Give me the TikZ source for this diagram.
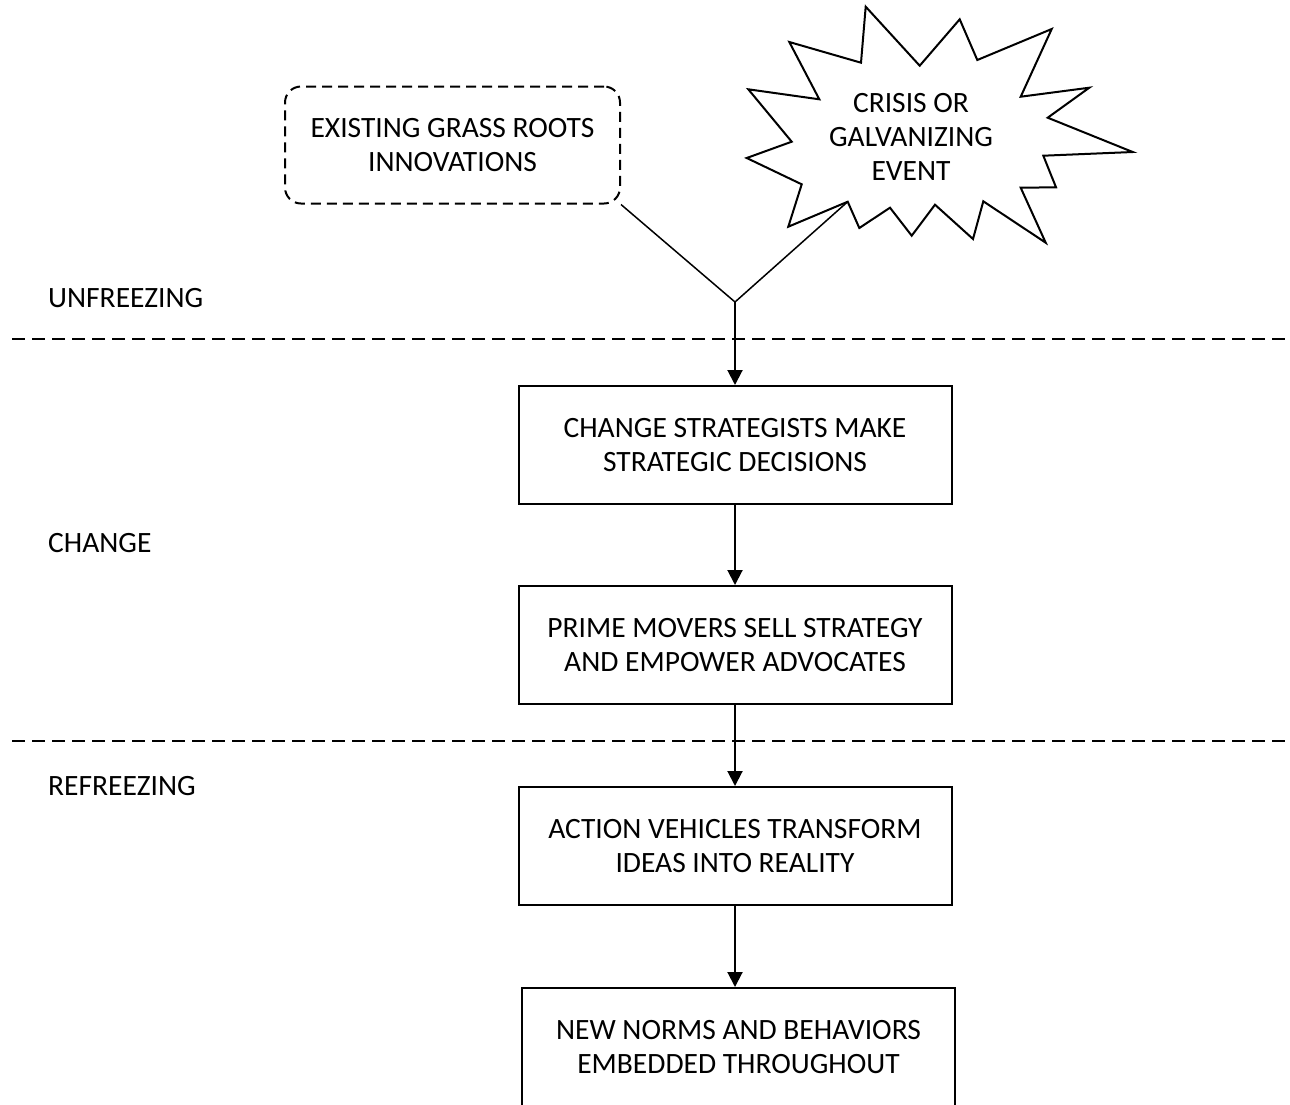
\documentclass[tikz,border=0pt]{standalone}
\usepackage{fontspec}
\setmainfont{Carlito}
\usetikzlibrary{positioning,arrows.meta}
\tikzset{
  >={Triangle[length=15pt,width=15pt]},
  every node/.style={font=\fontsize{29.5}{34}\selectfont},
  % --- nodes
  stage/.style = {draw, line width=2pt, align=center, minimum width=433pt,
                  minimum height=118pt, inner sep=0pt},
  grass/.style = {draw, dash pattern=on 10pt off 6pt, rounded corners=16pt,
                  line width=2pt, align=center, minimum width=335pt,
                  minimum height=117pt, inner sep=0pt},
  phase/.style = {anchor=west, inner sep=0pt},
  % --- edges
  e/.style       = {->, line width=2pt},
  feed/.style    = {line width=1.5pt},
  divider/.style = {line width=2pt, dash pattern=on 13pt off 7pt},
  burst/.style   = {line width=2pt, line join=miter},
}

\begin{document}
\begin{tikzpicture}[x=1pt, y=-1pt, node distance=80pt]
  \path[use as bounding box] (0,0) rectangle (1290,1104);
  \clip (0,0) rectangle (1290,1104);

  % phase dividers
  \draw[divider] (12,339) -- (1290,339);
  \draw[divider] (12,741) -- (1290,741);

  % phase labels
  \node[phase] (unfreeze) at (48,298) {UNFREEZING};
  \node[phase] (change)   at (48,543) {CHANGE};
  \node[phase] (refreeze) at (48,786) {REFREEZING};

  % triggers
  \node[grass] (roots) at (452.5,145) {EXISTING GRASS ROOTS\\INNOVATIONS};
  \draw[burst] (865.7,6.7) -- (919.7,65.7) -- (959.7,19.3) -- (977.3,60)
    -- (1051.7,29) -- (1020.7,96.7) -- (1089.3,87.7) -- (1047.7,117.7)
    -- (1132.7,152) -- (1043.3,155.7) -- (1056,187.3) -- (1020.7,187.7)
    -- (1045.7,242.7) -- (983.3,201.3) -- (973,239) -- (935,204.7)
    -- (911.7,235.7) -- (890,207.7) -- (859.3,228) -- (847.7,201.7)
    -- (788.3,226.7) -- (801.7,184.3) -- (746.7,158) -- (791.7,141.7)
    -- (748.3,89.3) -- (819.3,99.3) -- (789.3,42) -- (861,62.7) -- cycle;
  \coordinate (tip) at (847.7,201.7);
  \node[align=center] (crisis) at (911,137) {CRISIS OR\\GALVANIZING\\EVENT};
  \coordinate (join) at (735,302);

  % stages
  \node[stage] (strategy) at (735,445) {CHANGE STRATEGISTS MAKE\\STRATEGIC DECISIONS};
  \node[stage, below=of strategy] (movers) {PRIME MOVERS SELL STRATEGY\\AND EMPOWER ADVOCATES};
  \node[stage, below=81pt of movers] (vehicles) {ACTION VEHICLES TRANSFORM\\IDEAS INTO REALITY};
  \node[stage, below=81pt of vehicles, xshift=3.5pt] (norms) {NEW NORMS AND BEHAVIORS\\EMBEDDED THROUGHOUT};

  % connectors
  \draw[feed] (roots.south east) -- (join);
  \draw[feed] (tip) -- (join);
  \draw[e] (join) -- (strategy);
  \draw[e] (strategy) -- (movers);
  \draw[e] (movers) -- (vehicles);
  \draw[e] (vehicles.south) -- (vehicles.south |- norms.north);
\end{tikzpicture}
\end{document}
